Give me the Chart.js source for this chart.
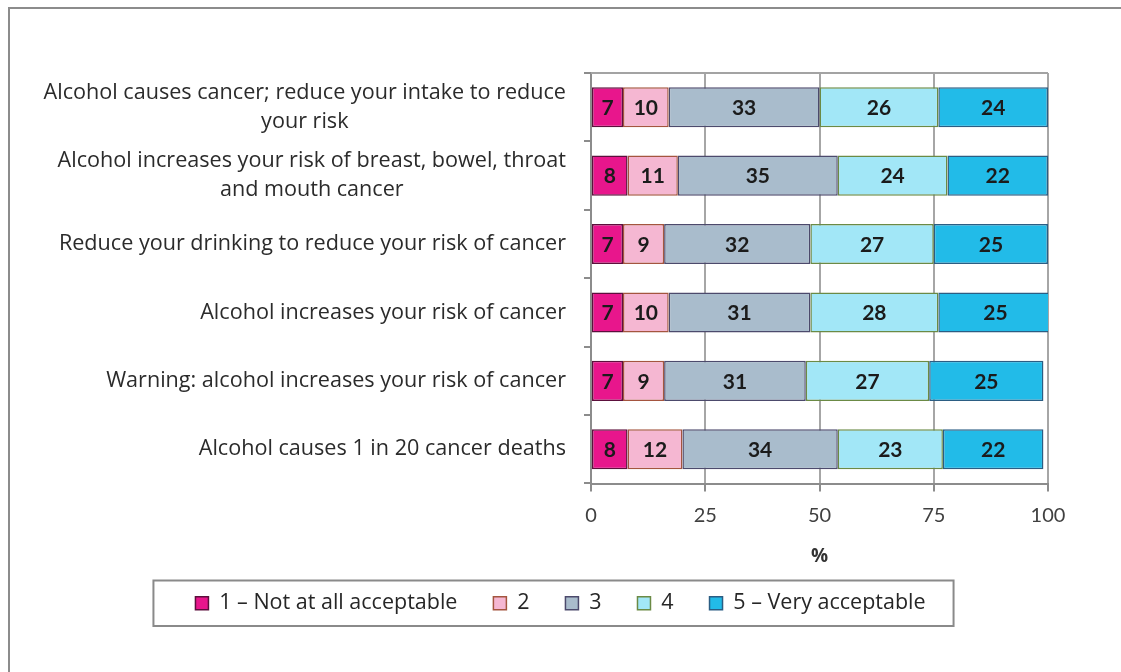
<!DOCTYPE html>
<html>
<head>
<meta charset="utf-8">
<script src="https://cdn.jsdelivr.net/npm/chart.js@4.4.1/dist/chart.umd.min.js"></script>
<style>
  html, body { margin: 0; padding: 0; background: #fff; }
  #wrap { position: relative; width: 1121px; height: 672px; }
  #frame {
    position: absolute; left: 8px; top: 7px; right: -10px; bottom: -10px;
    border-left: 2px solid #8c8c8c; border-top: 2px solid #8c8c8c;
    pointer-events: none;
  }
</style>
</head>
<body>
<div id="wrap">
  <canvas id="chart" width="1121" height="672"></canvas>
  <div id="frame"></div>
</div>
<script>
const messages = [
  ['Alcohol causes cancer; reduce your intake to reduce', 'your risk'],
  ['Alcohol increases your risk of breast, bowel, throat', 'and mouth cancer'],
  ['Reduce your drinking to reduce your risk of cancer'],
  ['Alcohol increases your risk of cancer'],
  ['Warning: alcohol increases your risk of cancer'],
  ['Alcohol causes 1 in 20 cancer deaths']
];
const ratingNames = ['1 \u2013 Not at all acceptable', '2', '3', '4', '5 \u2013 Very acceptable'];
const notAcceptable = [7, 8, 7, 7, 7, 8];
const rating2 = [10, 11, 9, 10, 9, 12];
const rating3 = [33, 35, 32, 31, 31, 34];
const rating4 = [26, 24, 27, 28, 27, 23];
const veryAcceptable = [24, 22, 25, 25, 25, 22];
const xTicks = [0, 25, 50, 75, 100];

const fills = ['#e8168c', '#f5b7d2', '#a9bccc', '#a2e7f7', '#22bbe8'];
const edges = ['#5c0f3c', '#a4553f', '#4c4a6c', '#6b8a45', '#2b5d83'];
const seriesValues = [notAcceptable, rating2, rating3, rating4, veryAcceptable];

const TEXT_FONT = '"Open Sans", Lato, sans-serif';
const NUM_FONT = 'Lato, "Open Sans", sans-serif';

// value printed in the middle of every segment
const segmentLabels = {
  id: 'segmentLabels',
  afterDatasetsDraw(chart) {
    const ctx = chart.ctx;
    ctx.save();
    ctx.font = 'bold 21px ' + NUM_FONT;
    ctx.fillStyle = '#1b1b1b';
    ctx.textAlign = 'center';
    ctx.textBaseline = 'middle';
    chart.data.datasets.forEach((ds, i) => {
      chart.getDatasetMeta(i).data.forEach((bar, j) => {
        const p = bar.getCenterPoint();
        ctx.fillText(ds.data[j], p.x, p.y + 1);
      });
    });
    ctx.restore();
  }
};

// category names: right edge fixed, extra lines centred under the first
const categoryNames = {
  id: 'categoryNames',
  afterDraw(chart) {
    const ctx = chart.ctx;
    const y = chart.scales.y;
    const right = y.right - 25;
    const lineH = 29;
    ctx.save();
    ctx.font = '21.6px ' + TEXT_FONT;
    ctx.fillStyle = '#2b2b2b';
    ctx.textAlign = 'center';
    ctx.textBaseline = 'middle';
    messages.forEach((lines, i) => {
      const w = Math.max(...lines.map(l => ctx.measureText(l).width));
      const cy = y.getPixelForValue(i);
      const top = cy - (lines.length - 1) * lineH / 2;
      lines.forEach((l, k) => ctx.fillText(l, right - w / 2, top + k * lineH));
    });
    ctx.restore();
  }
};

// top edge of the plot and the box round the legend
const plotFrame = {
  id: 'plotFrame',
  beforeDatasetsDraw(chart) {
    const a = chart.chartArea;
    const ctx = chart.ctx;
    ctx.save();
    ctx.strokeStyle = '#a3a3a3';
    ctx.lineWidth = 2;
    ctx.beginPath();
    ctx.moveTo(a.left, a.top);
    ctx.lineTo(a.right, a.top);
    ctx.stroke();
    ctx.restore();
  },
  afterDraw(chart) {
    const boxes = chart.legend.legendHitBoxes;
    if (!boxes || !boxes.length) return;
    const l = Math.min(...boxes.map(b => b.left)) - 42;
    const r = Math.max(...boxes.map(b => b.left + b.width)) + 28;
    const t = Math.min(...boxes.map(b => b.top)) - 12;
    const btm = Math.max(...boxes.map(b => b.top + b.height)) + 12;
    const ctx = chart.ctx;
    ctx.save();
    ctx.strokeStyle = '#8a8a8a';
    ctx.lineWidth = 2;
    ctx.strokeRect(l, t, r - l, btm - t);
    ctx.restore();
  }
};

new Chart(document.getElementById('chart'), {
  type: 'bar',
  data: {
    labels: messages.map(m => m.join(' ')),
    datasets: seriesValues.map((vals, i) => ({
      label: ratingNames[i],
      data: vals,
      backgroundColor: fills[i],
      borderColor: edges[i],
      borderWidth: 1.5,
      borderSkipped: false,
      barPercentage: 0.585,
      categoryPercentage: 1
    }))
  },
  options: {
    indexAxis: 'y',
    responsive: false,
    animation: false,
    layout: { padding: { left: 73, right: 73, top: 73, bottom: 48 } },
    scales: {
      x: {
        stacked: true,
        min: 0,
        max: 100,
        afterBuildTicks: s => { s.ticks = xTicks.map(v => ({ value: v })); },
        afterFit: s => { s.height = 73; },
        grid: { color: '#a6a6a6', lineWidth: 2, tickLength: 8, tickColor: '#8c8c8c' },
        border: { color: '#8c8c8c', width: 2 },
        ticks: { font: { family: NUM_FONT, size: 20 }, color: '#404040', padding: 12 },
        title: {
          display: true,
          text: '%',
          font: { family: TEXT_FONT, size: 19, weight: 'bold' },
          color: '#333',
          padding: { top: 4, bottom: -11 }
        }
      },
      y: {
        stacked: true,
        afterFit: s => { s.width = 518; },
        grid: { offset: true, drawOnChartArea: false, tickLength: 7, tickColor: '#8c8c8c', lineWidth: 2 },
        border: { color: '#8c8c8c', width: 2 },
        ticks: { display: false }
      }
    },
    plugins: {
      legend: {
        position: 'bottom',
        labels: {
          font: { family: TEXT_FONT, size: 21.5 },
          color: '#262626',
          boxWidth: 13,
          boxHeight: 13,
          padding: 36
        }
      },
      tooltip: { enabled: false }
    }
  },
  plugins: [segmentLabels, categoryNames, plotFrame]
});
</script>
</body>
</html>
